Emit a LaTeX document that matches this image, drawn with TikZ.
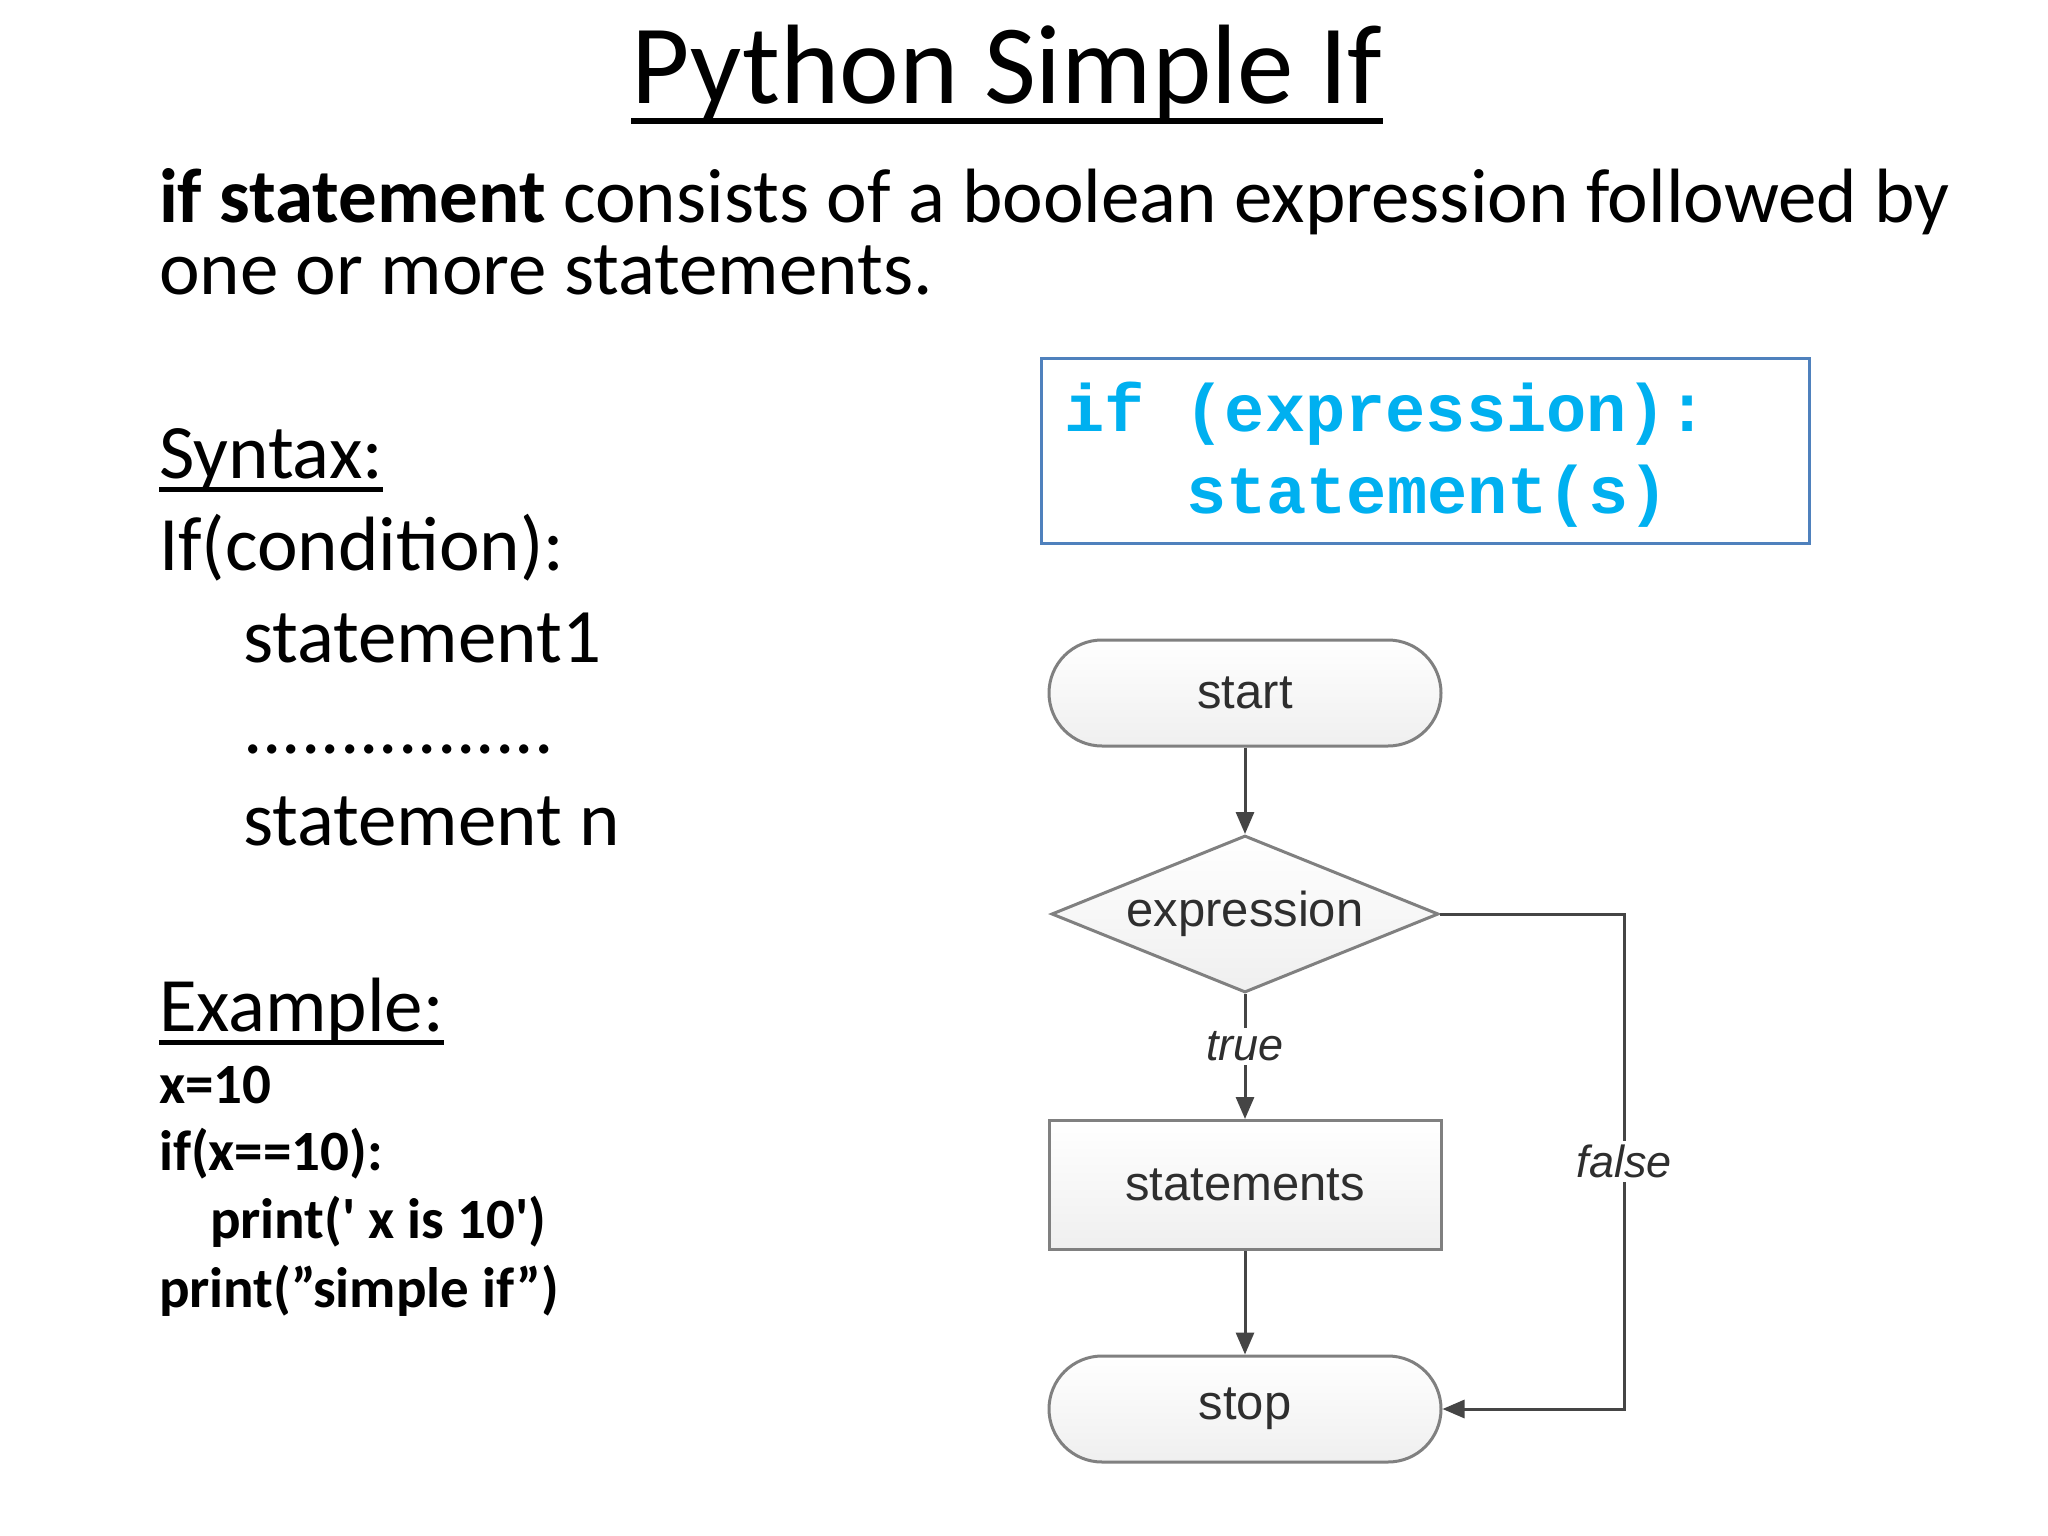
\documentclass[tikz,border=0pt]{standalone}
\usepackage{fontspec}
\setmainfont{Carlito}
\newfontfamily\plainf{Carlito}[Ligatures=TeXOff]
\newfontfamily\arialf{Liberation Sans}
\newfontfamily\courf{Liberation Mono}
\usetikzlibrary{shapes.geometric,arrows.meta,calc}
\definecolor{fcline}{HTML}{808080}
\definecolor{fcarrow}{HTML}{454545}
\definecolor{fctext}{HTML}{2E2E2E}
\definecolor{codeblue}{HTML}{00B0F0}
\definecolor{boxblue}{HTML}{4F81BD}
\definecolor{fcfill}{HTML}{EFEFEF}
\begin{document}
\begin{tikzpicture}[x=1bp,y=-1bp,
  txt/.style={anchor=base west, inner sep=0, outer sep=0},
  body/.style={txt, font=\fontsize{77bp}{92bp}\selectfont},
  codeex/.style={txt, font=\plainf\fontsize{57bp}{68bp}\selectfont\bfseries},
  codebl/.style={txt, text=codeblue, font=\courf\bfseries\fontsize{67bp}{78bp}\selectfont},
  fcnode/.style={draw=fcline, line width=3bp, top color=white, bottom color=fcfill, font=\arialf\fontsize{49bp}{58bp}\selectfont, text=fctext, inner sep=0},
  term/.style={fcnode, rectangle, rounded corners=53bp, minimum width=392bp, minimum height=106bp},
  decision/.style={fcnode, diamond, aspect=2.46, minimum width=387bp, minimum height=157bp},
  process/.style={fcnode, rectangle, minimum width=392bp, minimum height=129bp},
  flow/.style={draw=fcarrow, line width=3bp, -{Triangle[length=22bp,width=18bp]}},
  flowlabel/.style={font=\arialf\itshape\fontsize{45bp}{54bp}\selectfont, text=fctext, fill=white, inner sep=4bp},
  uline/.style={line width=5bp}
]
\useasboundingbox[fill=white] (0,0) rectangle (2048,1536);

% title
\node[anchor=base, inner sep=0, font=\fontsize{113bp}{130bp}\selectfont] (title) at (1007,104) {Python Simple If};
\draw[line width=6bp] ($(title.base west)+(0,17)$) -- ($(title.base east)+(0,17)$);

% intro
\node[body] (intro1) at (159,222) {\textbf{if statement} consists of a boolean expression followed by};
\node[body] (intro2) at (159,294) {one or more statements.};

% syntax
\node[body] (syn) at (159,478) {Syntax:};
\draw[uline] ($(syn.base west)+(0,11)$) -- ($(syn.base east)+(0,11)$);
\node[body] (syn1) at (159,570) {If(condition):};
\node[body] (syn2) at (243,662) {statement1};
\node[body] (syn3) at (243,753) {................};
\node[body] (syn4) at (243,845) {statement n};

% example
\node[body] (ex) at (159,1031) {Example:};
\draw[uline] ($(ex.base west)+(0,11)$) -- ($(ex.base east)+(0,11)$);
\node[codeex] (ex1) at (159,1103) {x=10};
\node[codeex] (ex2) at (159,1170) {if(x==10):};
\node[codeex] (ex3) at (210,1238) {print(' x is 10')};
\node[codeex] (ex4) at (159,1307) {print(”simple if”)};

% code box
\node[draw=boxblue, line width=3bp, minimum width=768bp, minimum height=185bp, inner sep=0] (codebox) at (1425,450.5) {};
\node[codebl] (code1) at (1064,431) {if (expression):};
\node[codebl] (code2) at (1186,513) {statement(s)};

% flowchart
\node[term] (start) at (1245,693) {start};
\node[decision] (diam) at (1245,914) {expression};
\node[process] (stmts) at (1245,1185) {statements};
\node[term] (stop) at (1245,1409) {stop};
\coordinate (fc) at (1624,914);

\draw[flow] (start) -- (diam);
\draw[flow] (diam) -- node[flowlabel, pos=0.42] {true} (stmts);
\draw[flow] (stmts) -- (stop);
\draw[flow] (diam.east) -- (fc) |- node[flowlabel, pos=0.25] {false} (stop.east);
\end{tikzpicture}
\end{document}
